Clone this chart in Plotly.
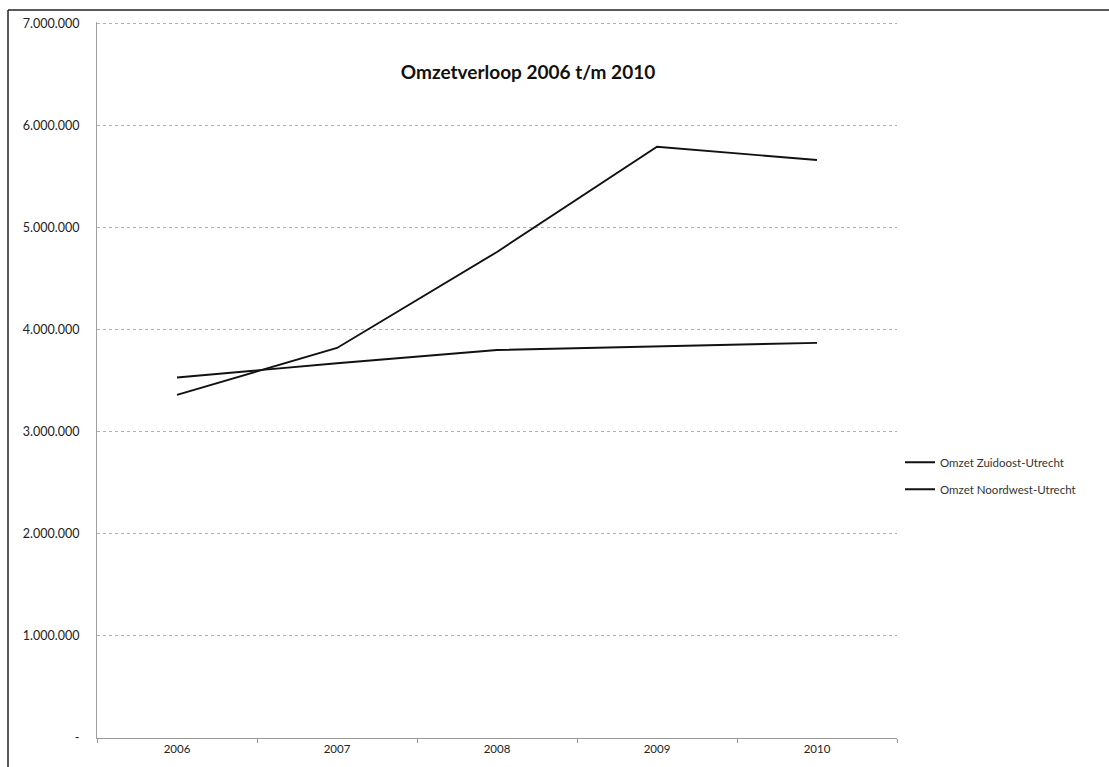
import plotly.graph_objects as go

# Jaaromzet per regio
jaren = ["2006", "2007", "2008", "2009", "2010"]
omzet_zuidoost = [3530000, 3670000, 3800000, 3835000, 3870000]
omzet_noordwest = [3360000, 3820000, 4760000, 5790000, 5660000]

reeksen = ["Omzet Zuidoost-Utrecht", "Omzet Noordwest-Utrecht"]

y_ticks = [0, 1000000, 2000000, 3000000, 4000000, 5000000, 6000000, 7000000]
y_labels = ["-", "1.000.000", "2.000.000", "3.000.000", "4.000.000",
            "5.000.000", "6.000.000", "7.000.000"]

FONT = "Lato, Open Sans, sans-serif"

fig = go.Figure()
for i, (naam, waarden) in enumerate(zip(reeksen, [omzet_zuidoost, omzet_noordwest])):
    fig.add_trace(go.Scatter(
        x=jaren, y=waarden, mode="lines", name=naam,
        legendgroup=f"g{i}",
        line=dict(color="#111111", width=1.9),
    ))

W, H = 1109, 767
L, R, T, B = 97, 212, 22, 27
pw, ph = W - L - R, H - T - B

def px_x(px):
    return (px - L) / pw

def px_y(py):
    return (H - B - py) / ph

fig.update_layout(
    width=W, height=H,
    margin=dict(l=L, r=R, t=T, b=B),
    paper_bgcolor="white", plot_bgcolor="white",
    font=dict(family=FONT, color="#222222", size=11),
    title=dict(text="<b>Omzetverloop 2006 t/m 2010</b>",
               font=dict(family=FONT, size=19, color="#111111"),
               xref="paper", x=px_x(528), xanchor="center",
               yref="container", y=1 - 72 / H, yanchor="middle"),
    showlegend=True,
    legend=dict(x=px_x(900), y=px_y(477), xanchor="left", yanchor="middle",
                font=dict(family=FONT, size=11.5, color="#333333"),
                traceorder="grouped", tracegroupgap=8,
                bgcolor="rgba(0,0,0,0)"),
    xaxis=dict(type="category", categoryorder="array", categoryarray=jaren,
               range=[-0.5, 4.5], showgrid=False,
               showline=True, linecolor="#999999", linewidth=1,
               ticks="outside", tickson="boundaries", ticklen=4,
               tickcolor="#999999", tickfont=dict(size=11.5, color="#222222"),
               zeroline=False),
    yaxis=dict(range=[0, 7012000], tickvals=y_ticks, ticktext=y_labels,
               showgrid=True, gridcolor="#b0b0b0", griddash="dot", gridwidth=1,
               showline=True, linecolor="#a0a0a0", linewidth=1,
               ticks="", ticklabelstandoff=14,
               tickfont=dict(size=12.5, color="#222222"), zeroline=False),
)

# Kaderlijnen van het diagramgebied
fig.add_shape(type="line", xref="paper", yref="paper",
              x0=px_x(8), x1=px_x(8), y0=px_y(10), y1=px_y(H + 5),
              line=dict(color="#222222", width=1.5))
fig.add_shape(type="line", xref="paper", yref="paper",
              x0=px_x(8), x1=px_x(W + 5), y0=px_y(10), y1=px_y(10),
              line=dict(color="#222222", width=1.5))

fig.write_html("out.html")
